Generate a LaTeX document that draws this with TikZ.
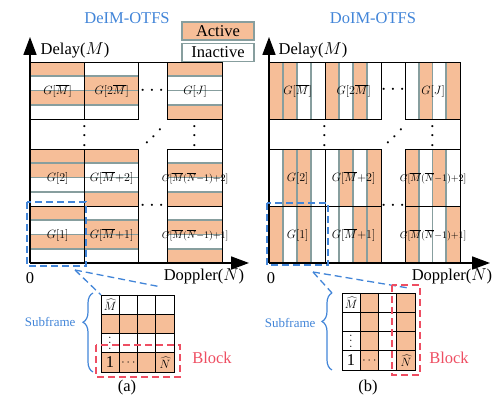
\documentclass[tikz,border=0pt]{standalone}
\usepackage{fontspec}
\setmainfont{Liberation Serif}
\usetikzlibrary{arrows.meta,decorations.pathreplacing,positioning,calc}

\definecolor{actcol}{RGB}{246,190,152}
\definecolor{sepcol}{RGB}{135,158,158}
\definecolor{titcol}{RGB}{66,133,216}
\definecolor{blkcol}{RGB}{238,78,98}

\tikzset{
  blk/.style={draw, line width=1.3pt, minimum width=#1, minimum height=57, anchor=north west, inner sep=0pt},
  sepline/.style={draw=sepcol, line width=1.6pt},
  glab/.style={font=\fontsize{11.5}{12}\selectfont, inner sep=0pt},
  glabs/.style={font=\fontsize{10}{10}\selectfont, inner sep=0pt},
  panelbox/.style={draw, line width=1.3pt, anchor=north west, inner sep=0pt},
  axarrow/.style={line width=1.6pt, -{Triangle[length=18pt,width=13pt]}},
  legbox/.style={draw=sepcol, line width=1.6pt, minimum width=72, minimum height=18, inner sep=0pt},
  ttl/.style={text=titcol},
  zoomline/.style={draw=titcol, line width=1.3pt, dash pattern=on 7pt off 4pt},
  blockline/.style={draw=blkcol, line width=1.3pt, dash pattern=on 7pt off 4pt},
  bracel/.style={draw=titcol, line width=1.2pt, decorate, decoration={brace, amplitude=10pt, aspect=0.63}},
  gridline/.style={draw, line width=1.3pt},
  gridbox/.style={draw, line width=1.3pt, minimum width=73, minimum height=77, anchor=north west, inner sep=0pt},
  small/.style={font=\fontsize{12}{13}\selectfont, inner sep=0pt},
  dotsn/.style={font=\fontsize{20}{20}\selectfont, inner sep=0pt},
}

% block with horizontal stripes: name, x, y, width, pattern, label
\newcommand{\rowblock}[6]{%
  \foreach \s [count=\i from 0] in {#5}
    {\ifnum\s=1 \fill[actcol] (#2,{#3+\i*14.25}) rectangle ++(#4,14.25);\fi}
  \foreach \i in {1,2,3}
    \draw[sepline] (#2,{#3+\i*14.25}) -- ++(#4,0);
  \node[blk=#4] (#1) at (#2,#3) {};
  \node[glab] (#1-g) at (#1.center) {#6};
}
% block with vertical stripes
\newcommand{\colblock}[6]{%
  \foreach \s [count=\i from 0] in {#5}
    {\ifnum\s=1 \fill[actcol] ({#2+\i*#4/4},#3) rectangle ++(#4/4,57);\fi}
  \foreach \i in {1,2,3}
    \draw[sepline] ({#2+\i*#4/4},#3) -- ++(0,57);
  \node[blk=#4] (#1) at (#2,#3) {};
  \node[glab] (#1-g) at (#1.center) {#6};
}

\begin{document}
\begin{tikzpicture}[x=1pt,y=-1pt,font=\fontsize{16.5}{19}\selectfont]
\useasboundingbox (0,0) rectangle (499,403);

% titles and legend
\node[ttl] (titA) at (127,18) {DeIM-OTFS};
\node[ttl] (titB) at (373,18) {DoIM-OTFS};
\node[legbox, fill=actcol] (act) at (218,31) {Active};
\node[legbox, below=2pt of act] (inact) {Inactive};

% (a) delay-domain blocks
\rowblock{a1}{30}{62}{54}{1,0,1,0}{$G[\overline{M}]$}
\rowblock{a2}{84}{62}{54}{0,1,1,0}{$G[2\overline{M}]$}
\rowblock{a3}{167}{62}{55}{1,0,0,1}{$G[J]$}
\rowblock{a4}{30}{149}{54}{1,1,0,0}{$G[2]$}
\rowblock{a5}{84}{149}{54}{1,0,0,1}{$G[\overline{M}{+}2]$}
\rowblock{a6}{167}{149}{55}{0,1,0,1}{}
\node[glabs] (a6-t) at (a6.center) {$G[\overline{M}(\overline{N}{-}1){+}2]$};
\rowblock{a7}{30}{206}{54}{1,0,1,0}{$G[1]$}
\rowblock{a8}{84}{206}{54}{0,1,1,0}{$G[\overline{M}{+}1]$}
\rowblock{a9}{167}{206}{55}{0,1,0,1}{}
\node[glabs] (a9-t) at (a9.center) {$G[\overline{M}(\overline{N}{-}1){+}1]$};
\node[panelbox, minimum width=192, minimum height=201] (panA) at (30,62) {};

% (b) Doppler-domain blocks
\colblock{b1}{269}{62}{56}{1,1,0,0}{$G[\overline{M}]$}
\colblock{b2}{325}{62}{56}{1,0,1,0}{$G[2\overline{M}]$}
\colblock{b3}{405}{62}{55}{0,1,0,1}{$G[J]$}
\colblock{b4}{269}{149}{56}{0,1,1,0}{$G[2]$}
\colblock{b5}{325}{149}{56}{0,1,0,1}{$G[\overline{M}{+}2]$}
\colblock{b6}{405}{149}{55}{1,0,1,0}{}
\node[glabs] (b6-t) at (b6.center) {$G[\overline{M}(\overline{N}{-}1){+}2]$};
\colblock{b7}{269}{206}{56}{1,0,1,0}{$G[1]$}
\colblock{b8}{325}{206}{56}{0,0,1,1}{$G[\overline{M}{+}1]$}
\colblock{b9}{405}{206}{55}{1,0,0,1}{}
\node[glabs] (b9-t) at (b9.center) {$G[\overline{M}(\overline{N}{-}1){+}1]$};
\node[panelbox, minimum width=191, minimum height=201] (panB) at (269,62) {};

% dots
\node[dotsn] (hdA1) at (152,91) {$\cdots$};
\node[dotsn] (hdA2) at (152,206) {$\cdots$};
\node[dotsn, rotate=90] (vdA1) at (85,136) {$\cdots$};
\node[dotsn, rotate=45] (ddA) at (154,137) {$\cdots$};
\node[dotsn, rotate=90] (vdA2) at (195,136) {$\cdots$};
\node[dotsn] (hdB1) at (393,90) {$\cdots$};
\node[dotsn] (hdB2) at (393,206) {$\cdots$};
\node[dotsn, rotate=90] (vdB1) at (325,136) {$\cdots$};
\node[dotsn, rotate=45] (ddB) at (395,137) {$\cdots$};
\node[dotsn, rotate=90] (vdB2) at (433,136) {$\cdots$};

% axes
\coordinate (oA) at (30,263);
\coordinate (yA) at (30,37);
\coordinate (xA) at (249,263);
\draw[axarrow] (oA) -- (yA);
\draw[axarrow] (oA) -- (xA);
\node (delA) at (75,50) {Delay($M$)};
\node (dopA) at (204,276) {Doppler($N$)};
\node (zeroA) at (30,278) {0};
\coordinate (oB) at (269,263);
\coordinate (yB) at (269,37);
\coordinate (xB) at (490,263);
\draw[axarrow] (oB) -- (yB);
\draw[axarrow] (oB) -- (xB);
\node (delB) at (313,50) {Delay($M$)};
\node (dopB) at (452,276) {Doppler($N$)};
\node (zeroB) at (271,278) {0};

% subframe (a)
\draw[zoomline] (27,202) rectangle (86,266);
\fill[actcol] (101,314.25) rectangle ++(73,19.25);
\fill[actcol] (101,352.75) rectangle ++(73,19.25);
\foreach \i in {1,2,3} {
  \draw[gridline] ({101+\i*18.25},295) -- ++(0,77);
  \draw[gridline] (101,{295+\i*19.25}) -- ++(73,0);
}
\node[gridbox] (gridA) at (101,295) {};
\node[small] (mA) at (110.1,305) {$\widehat{M}$};
\node[small, rotate=90] (vA) at (110.1,343.1) {$\cdots$};
\node[inner sep=0pt] (oneA) at (110.1,362.4) {1};
\node[small] (cA) at (128.4,362.4) {$\cdots$};
\node[small] (nA) at (164.9,362.8) {$\widehat{N}$};
\coordinate (tipA) at (75,270);
\draw[zoomline] (tipA) -- (gridA.north west);
\draw[zoomline] (tipA) -- ($(gridA.north east)+(-14,-8)$);
\draw[bracel] (93,372) -- (93,293);
\node[ttl, anchor=east, font=\fontsize{13}{14}\selectfont] (subA) at (79,322) {Subframe};
\draw[blockline] (96,345) rectangle (180,377);
\node[text=blkcol] (blkA) at (212,358) {Block};
\node (capA) at (127,388) {(a)};

% subframe (b)
\draw[zoomline] (267,203) rectangle (328,265);
\fill[actcol] (360.25,293) rectangle ++(18.25,77);
\fill[actcol] (396.75,293) rectangle ++(18.25,77);
\foreach \i in {1,2,3} {
  \draw[gridline] ({342+\i*18.25},293) -- ++(0,77);
  \draw[gridline] (342,{293+\i*19.25}) -- ++(73,0);
}
\node[gridbox] (gridB) at (342,293) {};
\node[small] (mB) at (351.1,303) {$\widehat{M}$};
\node[small, rotate=90] (vB) at (351.1,341.1) {$\cdots$};
\node[inner sep=0pt] (oneB) at (351.1,360.4) {1};
\node[small] (cB) at (369.4,360.4) {$\cdots$};
\node[small] (nB) at (405.9,360.8) {$\widehat{N}$};
\coordinate (tipB) at (313,272);
\draw[zoomline] (tipB) -- ($(gridB.north west)+(-10,0)$);
\draw[zoomline] (tipB) -- ($(gridB.north east)+(-8,-5)$);
\draw[bracel] (332,370) -- (332,293);
\node[ttl, anchor=east, font=\fontsize{13}{14}\selectfont] (subB) at (319,323) {Subframe};
\draw[blockline] (392,285) rectangle (420,375);
\node[text=blkcol] (blkB) at (449,358) {Block};
\node (capB) at (368,388) {(b)};
\end{tikzpicture}
\end{document}
